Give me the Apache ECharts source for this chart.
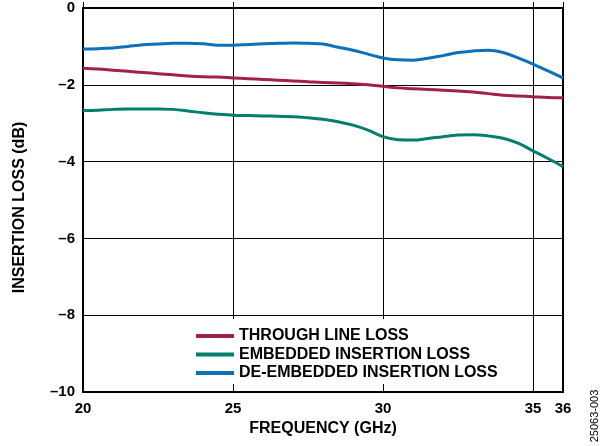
<!DOCTYPE html>
<html>
<head>
<meta charset="utf-8">
<script src="https://cdn.jsdelivr.net/npm/echarts@6/dist/echarts.min.js"></script>
<style>
html,body{margin:0;padding:0;background:#fff;}
#chart{width:607px;height:446px;}
</style>
</head>
<body>
<div id="chart"></div>
<script>
var freq = [20,20.5,21,21.5,22,22.5,23,23.5,24,24.5,25,25.5,26,26.5,27,27.5,28,28.5,29,29.5,30,30.5,31,31.5,32,32.5,33,33.5,34,34.5,35,35.5,36];
var throughLoss = [-1.57,-1.59,-1.62,-1.65,-1.68,-1.71,-1.74,-1.77,-1.79,-1.80,-1.82,-1.84,-1.86,-1.88,-1.90,-1.92,-1.94,-1.95,-1.97,-2.00,-2.04,-2.08,-2.10,-2.12,-2.14,-2.16,-2.19,-2.23,-2.27,-2.29,-2.31,-2.33,-2.34];
var embeddedLoss = [-2.67,-2.66,-2.64,-2.63,-2.63,-2.63,-2.64,-2.68,-2.73,-2.77,-2.79,-2.80,-2.81,-2.82,-2.83,-2.86,-2.90,-2.96,-3.05,-3.18,-3.35,-3.43,-3.44,-3.40,-3.35,-3.31,-3.30,-3.33,-3.39,-3.52,-3.72,-3.92,-4.13];
var deembeddedLoss = [-1.07,-1.06,-1.04,-1.00,-0.96,-0.94,-0.92,-0.92,-0.93,-0.97,-0.97,-0.95,-0.93,-0.92,-0.91,-0.92,-0.94,-1.02,-1.10,-1.20,-1.30,-1.35,-1.36,-1.31,-1.24,-1.16,-1.12,-1.10,-1.16,-1.30,-1.46,-1.64,-1.82];
var seriesNames = ['THROUGH LINE LOSS','EMBEDDED INSERTION LOSS','DE-EMBEDDED INSERTION LOSS'];
var seriesColors = ['#a3204b','#00806c','#0e6fba'];
var xName = 'FREQUENCY (GHz)';
var yName = 'INSERTION LOSS (dB)';
var figId = '25063-003';

function pairs(ys){ return freq.map(function(f,i){ return [f, ys[i]]; }); }
var font = 'Arial, "Liberation Sans", Helvetica, sans-serif';
var allData = [throughLoss, embeddedLoss, deembeddedLoss];

var chart = echarts.init(document.getElementById('chart'));
chart.setOption({
  animation: false,
  backgroundColor: '#fff',
  grid: {left: 83, top: 8, right: 44, bottom: 54, show: true, borderColor: '#000', borderWidth: 2, backgroundColor: 'transparent'},
  xAxis: {
    type: 'value', min: 20, max: 36, interval: 5,
    name: xName, nameLocation: 'middle', nameGap: 26,
    nameTextStyle: {fontFamily: font, fontWeight: 'bold', fontSize: 16, color: '#000'},
    axisLine: {show: true, lineStyle: {color: '#000', width: 2}},
    axisTick: {show: true, inside: true, length: 6, lineStyle: {color: '#000', width: 1}},
    axisLabel: {fontFamily: font, fontWeight: 'bold', fontSize: 15, color: '#000', margin: 9, showMaxLabel: true, showMinLabel: true},
    splitLine: {show: true, lineStyle: {color: '#000', width: 1}}
  },
  yAxis: {
    type: 'value', min: -10, max: 0, interval: 2,
    name: yName, nameLocation: 'middle', nameGap: 55, nameRotate: 90,
    nameTextStyle: {fontFamily: font, fontWeight: 'bold', fontSize: 16, color: '#000', padding: [0, 15, 0, 0]},
    axisLine: {show: true, lineStyle: {color: '#000', width: 2}},
    axisTick: {show: false},
    axisLabel: {fontFamily: font, fontWeight: 'bold', fontSize: 15, color: '#000', margin: 8,
      formatter: function(v){ return String(v).replace('-', '\u2013'); }},
    splitLine: {show: true, lineStyle: {color: '#000', width: 1}}
  },
  legend: {
    orient: 'vertical', left: 190, top: 319,
    padding: [9, 12, 3, 6],
    backgroundColor: '#fff',
    itemWidth: 38, itemHeight: 4, itemGap: 2.5,
    icon: 'rect',
    data: seriesNames,
    textStyle: {fontFamily: font, fontWeight: 'bold', fontSize: 16, color: '#000', lineHeight: 16}
  },
  graphic: [{
    type: 'text', x: 595, y: 416, rotation: Math.PI/2,
    style: {text: figId, fontFamily: font, fontSize: 11, fill: '#000', align: 'center', verticalAlign: 'middle'}
  }],
  series: seriesNames.map(function(n, i){
    return {
      name: n, type: 'line', data: pairs(allData[i]), smooth: 0.4, symbol: 'none',
      lineStyle: {color: seriesColors[i], width: 3}, itemStyle: {color: seriesColors[i]}
    };
  })
});
</script>
</body>
</html>
